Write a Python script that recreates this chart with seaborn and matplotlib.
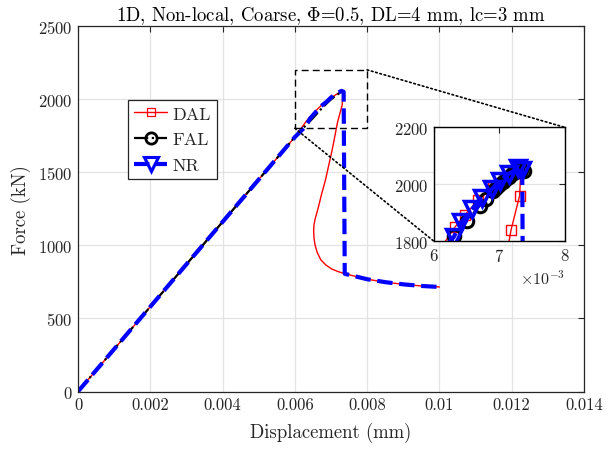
import numpy as np
import pandas as pd
import matplotlib
matplotlib.use("Agg")
import matplotlib.pyplot as plt
import seaborn as sns
from matplotlib.lines import Line2D
from matplotlib.patches import Rectangle, ConnectionPatch

# ---------------- data (displacement in mm, force in kN) ----------------
asc_x = [0.0, 0.001, 0.002, 0.003, 0.004, 0.005, 0.006]
asc_F = [0, 290, 580, 870, 1160, 1450, 1740]

dal_x = asc_x + [0.00632, 0.00647, 0.00668, 0.00690, 0.00710, 0.00722, 0.00733,
                 0.00731, 0.00718, 0.00711, 0.00703, 0.00694, 0.00685, 0.00674,
                 0.00664, 0.00656, 0.00653, 0.00652, 0.00653, 0.00656, 0.00662,
                 0.00672, 0.00686, 0.00702, 0.00720, 0.00739, 0.00800, 0.00850,
                 0.00900, 0.00950, 0.01000]
dal_F = asc_F + [1850, 1892, 1945, 1990, 2025, 2042, 2055,
                 1960, 1841, 1750, 1650, 1550, 1450, 1350,
                 1250, 1180, 1140, 1100, 1050, 1000, 950,
                 900, 865, 838, 820, 805, 768, 748,
                 733, 722, 715]

fal_x = asc_x + [0.00630, 0.00650, 0.00670, 0.00680, 0.00690, 0.00695, 0.00700,
                 0.00705, 0.00710, 0.00715, 0.00720, 0.00724, 0.00728, 0.00733, 0.00737]
fal_F = asc_F + [1820, 1870, 1925, 1950, 1975, 1987, 1998,
                 2008, 2018, 2027, 2035, 2042, 2048, 2052, 2045]

nr_x = asc_x + [0.00630, 0.00642, 0.00658, 0.00673, 0.00688, 0.00701, 0.00714,
                0.00729, 0.00735, 0.00738, 0.00800, 0.00850, 0.00900, 0.00950, 0.01000]
nr_F = asc_F + [1814, 1867, 1912, 1953, 1982, 2013, 2036,
                2056, 2050, 805, 768, 748, 733, 722, 715]

series_names = ["DAL", "FAL", "NR"]
xticks_main = [0, 0.002, 0.004, 0.006, 0.008, 0.01, 0.012, 0.014]
xtick_labels_main = ["0", "0.002", "0.004", "0.006", "0.008", "0.01", "0.012", "0.014"]
yticks_main = [0, 500, 1000, 1500, 2000, 2500]
title_text = r"1D, Non-local, Coarse, $\Phi$=0.5, DL=4 mm, lc=3 mm"

# ---------------- style ----------------
sns.set_style("whitegrid")
plt.rcParams["font.family"] = ["cmr10", "DejaVu Serif"]
plt.rcParams["mathtext.fontset"] = "cm"
plt.rcParams["axes.formatter.use_mathtext"] = True
plt.rcParams["axes.unicode_minus"] = False

styles = {
    "DAL": dict(color="#ff0000", lw=1.0, ls="-", marker="s", ms=7, mew=1.0),
    "FAL": dict(color="black", lw=1.6, ls="-.", marker="o", ms=9, mew=2.2),
    "NR": dict(color="#0000ff", lw=3.0, ls="--", marker="v", ms=11, mew=2.5),
}
data = {"DAL": (dal_x, dal_F), "FAL": (fal_x, fal_F), "NR": (nr_x, nr_F)}

fig = plt.figure(figsize=(6.08, 4.52), dpi=100)
ax = fig.add_axes([0.1283, 0.1316, 0.8322, 0.8087])

spine_col = "#262626"
grid_col = "#e3e3e3"

def style_axes(a, fs):
    a.set_facecolor("white")
    for s in a.spines.values():
        s.set_color(spine_col)
        s.set_linewidth(0.9)
        s.set_visible(True)
    a.grid(True, color=grid_col, lw=0.9)
    a.tick_params(direction="in", top=True, right=True, length=4, width=0.8,
                  colors=spine_col, labelcolor=spine_col, labelsize=fs, pad=4)

for name in series_names:
    x, F = data[name]
    st = styles[name]
    df = pd.DataFrame({"x": x, "F": F})
    sns.lineplot(data=df, x="x", y="F", ax=ax, sort=False, estimator=None,
                 color=st["color"], lw=st["lw"], linestyle=st["ls"], legend=False)

style_axes(ax, 12)
ax.set_xlim(0, 0.014)
ax.set_ylim(0, 2500)
ax.set_xticks(xticks_main)
ax.set_xticklabels(xtick_labels_main)
ax.set_yticks(yticks_main)
ax.set_xlabel("Displacement (mm)", fontsize=13.5, color=spine_col, labelpad=7)
ax.set_ylabel("Force (kN)", fontsize=13.5, color=spine_col, labelpad=5)
ax.set_title(title_text, fontsize=13.5, color="black", pad=4)

# zoom rectangle
ax.add_patch(Rectangle((0.006, 1800), 0.002, 400, fill=False, ec="black",
                       lw=1.0, ls=(0, (5, 3)), zorder=5))

# legend
handles = []
for name in series_names:
    st = styles[name]
    handles.append(Line2D([], [], color=st["color"], lw=st["lw"], ls=st["ls"],
                          marker=st["marker"], ms=st["ms"] * 0.9, mew=st["mew"] * 0.9,
                          mfc="none", mec=st["color"]))
leg = ax.legend(handles, series_names, loc="upper left",
                bbox_to_anchor=(0.099, 0.798), borderaxespad=0, fontsize=13,
                frameon=True, fancybox=False, framealpha=1, edgecolor=spine_col,
                handlelength=1.8, labelspacing=0.55, borderpad=0.35, handletextpad=0.3)
leg.get_frame().set_linewidth(0.9)

# inset
axin = fig.add_axes([0.7138, 0.4639, 0.2150, 0.2522])
for name in series_names:
    x, F = data[name]
    st = styles[name]
    df = pd.DataFrame({"x": x, "F": F})
    sns.lineplot(data=df, x="x", y="F", ax=axin, sort=False, estimator=None,
                 color=st["color"], lw=st["lw"], linestyle=st["ls"], legend=False,
                 marker=st["marker"], markersize=st["ms"], markeredgewidth=st["mew"],
                 markeredgecolor=st["color"], markerfacecolor="none")
style_axes(axin, 12)
for s in axin.spines.values():
    s.set_color("black")
    s.set_linewidth(1.0)
axin.set_xlim(0.006, 0.008)
axin.set_ylim(1800, 2200)
axin.set_xticks([0.006, 0.007, 0.008])
axin.set_yticks([1800, 2000, 2200])
axin.ticklabel_format(axis="x", style="sci", scilimits=(0, 0))
axin.xaxis.get_offset_text().set_fontsize(11.5)
axin.xaxis.get_offset_text().set_color(spine_col)
axin.set_xlabel("")
axin.set_ylabel("")

# connector lines
for (xa, ya), (xb, yb) in [((0.008, 2200), (1, 1)), ((0.006, 1800), (0, 0))]:
    con = ConnectionPatch(xyA=(xa, ya), coordsA=ax.transData,
                          xyB=(xb, yb), coordsB=axin.transAxes,
                          color="black", lw=1.2, ls=":", zorder=4)
    fig.add_artist(con)

fig.savefig("out.png", dpi=100)
